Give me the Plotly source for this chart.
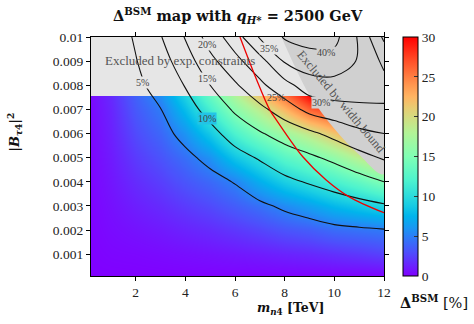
import plotly.graph_objects as go

FONT = "Liberation Serif"
TFONT = "DejaVu Serif"

# ---- data ----
m_nodes = [0.2, 1, 2, 3, 4, 5, 6, 7, 8, 9, 10, 11, 12]          # m_n4 [TeV]
b_nodes = [0.0001, 0.001, 0.002, 0.003, 0.004, 0.005, 0.006,
           0.007, 0.008, 0.009, 0.01]                               # |B_tau4|^2

# Delta^BSM [%] estimated at the nodes, one list per mass (bottom -> top in |B|^2)
d_m02 = [0.00, 0.05, 0.10, 0.15, 0.20, 0.25, 0.30, 0.35, 0.40, 0.45, 0.50]
d_m01 = [0.00, 0.20, 0.40, 0.60, 0.80, 1.00, 1.20, 1.40, 1.70, 2.00, 2.30]
d_m2 = [0.02, 0.27, 0.68, 1.15, 1.67, 2.23, 2.83, 3.45, 4.10, 4.79, 5.50]
d_m3 = [0.03, 0.39, 0.96, 1.63, 2.37, 3.17, 4.02, 4.91, 6.40, 8.00, 9.70]
d_m4 = [0.04, 0.53, 1.31, 2.22, 3.23, 4.32, 5.87, 8.00, 10.25, 12.6, 15.3]
d_m5 = [0.05, 0.67, 1.64, 2.79, 4.05, 5.80, 8.60, 11.7, 15.0, 18.6, 22.3]
d_m6 = [0.06, 0.85, 2.09, 3.56, 5.15, 8.40, 11.9, 15.7, 19.3, 23.6, 27.5]
d_m7 = [0.07, 1.06, 2.60, 4.40, 7.20, 10.4, 14.6, 18.75, 23.9, 28.1, 35.5]
d_m8 = [0.08, 1.30, 3.20, 5.50, 9.00, 12.7, 16.8, 22.5, 28.2, 35.5, 40.5]
d_m9 = [0.09, 1.50, 3.60, 6.50, 10.4, 14.2, 19.0, 26.4, 32.8, 37.7, 42.0]
d_m10 = [0.10, 1.80, 4.20, 7.70, 11.7, 16.0, 21.4, 28.1, 33.2, 38.0, 41.5]
d_m11 = [0.11, 2.10, 4.50, 8.60, 13.2, 18.3, 23.9, 29.0, 32.5, 34.5, 34.3]
d_m12 = [0.12, 2.50, 4.80, 9.50, 15.0, 20.5, 25.0, 29.5, 31.5, 29.0, 24.0]
delta_by_mass = [d_m02, d_m01, d_m2, d_m3, d_m4, d_m5, d_m6, d_m7, d_m8,
                 d_m9, d_m10, d_m11, d_m12]

contour_levels = [5, 10, 15, 20, 25, 30, 35, 40]
label_m = [2.27, 4.87, 4.87, 4.87, 7.67, 9.47, 7.36, 9.67]
label_b = [0.00813, 0.00664, 0.0083, 0.0097, 0.0075, 0.00728, 0.00954, 0.00936]
label_bg = ["#e6e6e6", "#22c4e6", "#e6e6e6", "#e6e6e6", "rgba(0,0,0,0)",
            "#d0d0d0", "#e6e6e6", "#d0d0d0"]

exp_bound = 0.00756                     # exp. constraint on |B|^2
width_m = [7.87, 8.5, 9.0, 10.0, 11.0, 12.0]
width_b = [0.0100, 0.00858, 0.00760, 0.00620, 0.00512, 0.00432]
red_m = [6.2, 6.87, 7.4, 7.67, 8.73, 9.67, 10.6, 12.0]
red_b = [0.0100, 0.00823, 0.00698, 0.00656, 0.00504, 0.00408, 0.00338, 0.00272]

x_ticks = [2, 4, 6, 8, 10, 12]
y_ticks = [0.001, 0.002, 0.003, 0.004, 0.005, 0.006, 0.007, 0.008, 0.009, 0.01]
y_ticktext = ["0.001", "0.002", "0.003", "0.004", "0.005", "0.006",
              "0.007", "0.008", "0.009", "0.01"]
cbar_ticks = [0, 5, 10, 15, 20, 25, 30]

X_RANGE = [0.2, 12]
Y_RANGE = [0.0001, 0.01]

z = [list(row) for row in zip(*delta_by_mass)]

rainbow = [
    [0.0, "rgb(128,0,255)"], [0.1, "rgb(77,79,252)"], [0.2, "rgb(26,150,243)"],
    [0.25, "rgb(0,180,236)"], [0.3, "rgb(26,206,227)"], [0.4, "rgb(77,243,206)"],
    [0.5, "rgb(128,255,180)"], [0.6, "rgb(179,243,150)"], [0.7, "rgb(230,206,116)"],
    [0.75, "rgb(255,180,98)"], [0.8, "rgb(255,150,79)"], [0.9, "rgb(255,79,40)"],
    [1.0, "rgb(255,0,0)"],
]

fig = go.Figure()

fig.add_trace(go.Heatmap(
    x=m_nodes, y=b_nodes, z=z, zmin=0, zmax=30, zsmooth="best",
    colorscale=rainbow, hoverinfo="skip",
    colorbar=dict(
        thickness=15, thicknessmode="pixels", len=1, lenmode="fraction",
        x=1.065, xanchor="left", y=0.5, yanchor="middle", xpad=0, ypad=0,
        outlinewidth=1, outlinecolor="black",
        tickvals=cbar_ticks, ticks="inside", ticklen=4, tickcolor="#333",
        tickfont=dict(family=FONT, size=13.5, color="#222"),
    ),
    xaxis="x", yaxis="y",
))

# excluded by experimental constraints
fig.add_trace(go.Scatter(
    x=[X_RANGE[0], X_RANGE[1], X_RANGE[1], X_RANGE[0]],
    y=[exp_bound, exp_bound, Y_RANGE[1], Y_RANGE[1]],
    fill="toself", fillcolor="#e6e6e6", mode="lines", line=dict(width=0),
    hoverinfo="skip", showlegend=False, xaxis="x", yaxis="y",
))
# excluded by width bound
fig.add_trace(go.Scatter(
    x=width_m + [X_RANGE[1]], y=width_b + [Y_RANGE[1]],
    fill="toself", fillcolor="#d0d0d0", mode="lines", line=dict(width=0, shape="spline"),
    hoverinfo="skip", showlegend=False, xaxis="x", yaxis="y",
))

# contour lines on an overlaid subplot (drawn above the grey areas)
fig.add_trace(go.Contour(
    x=m_nodes, y=b_nodes, z=z,
    contours=dict(start=contour_levels[0], end=contour_levels[-1], size=5,
                  coloring="none", showlabels=False),
    line=dict(color="#111", width=1.1, smoothing=1.0),
    showscale=False, hoverinfo="skip", xaxis="x2", yaxis="y2",
))
fig.add_trace(go.Scatter(
    x=red_m, y=red_b, mode="lines", line=dict(color="#ee0000", width=1.3, shape="spline"),
    hoverinfo="skip", showlegend=False, xaxis="x2", yaxis="y2",
))

C = dict(xanchor="center", yanchor="middle", showarrow=False)
ann = []
for lv, lm, lb, bg in zip(contour_levels, label_m, label_b, label_bg):
    ann.append(dict(x=lm, y=lb, xref="x2", yref="y2", text=f"{lv}%",
                    font=dict(family=FONT, size=10, color="#444"), bgcolor=bg,
                    borderpad=0, **C))
ann.append(dict(x=3.8, y=0.00903, xref="x2", yref="y2", text="Excluded by exp. constraints",
                font=dict(family=FONT, size=13, color="#555"), **C))
ann.append(dict(x=10.27, y=0.00729, xref="x2", yref="y2", text="Excluded by width bound",
                textangle=50, font=dict(family=FONT, size=12.5, color="#555"), **C))
# axis titles
ann.append(dict(x=0.68, y=-0.135, xref="paper", yref="paper",
                text="<b><i>m</i><sub><i>n</i>4</sub> [TeV]</b>",
                font=dict(family=TFONT, size=12.5, color="#111"), **C))
ann.append(dict(x=-0.262, y=0.6, xref="paper", yref="paper",
                text="<b>|<i>B</i><sub><i>τ</i>4</sub>|<sup>2</sup></b>",
                textangle=-90, font=dict(family=TFONT, size=13, color="#111"), **C))
ann.append(dict(x=1.171, y=-0.106, xref="paper", yref="paper",
                text="<b>Δ<sup>BSM</sup></b> [%]",
                font=dict(family=TFONT, size=14.5, color="#111"), **C))
ann.append(dict(x=0.5, y=1.089, xref="paper", yref="paper",
                text="<b>Δ<sup>BSM</sup> map with <i>q</i><sub><i>H</i>*</sub> = 2500 GeV</b>",
                font=dict(family=TFONT, size=14.5, color="#111"), **C))

axis_common = dict(showgrid=False, zeroline=False, showline=True, linecolor="black",
                   linewidth=1.2, mirror="ticks", ticks="outside", ticklen=4,
                   tickcolor="black", tickfont=dict(family=FONT, size=13.5, color="#222"))

fig.update_layout(
    width=474, height=324, margin=dict(l=91, r=90, t=37, b=48),
    paper_bgcolor="white", plot_bgcolor="white",
    xaxis=dict(range=X_RANGE, tickvals=x_ticks, **axis_common),
    yaxis=dict(range=Y_RANGE, tickvals=y_ticks, ticktext=y_ticktext, **axis_common),
    xaxis2=dict(range=X_RANGE, overlaying="x", visible=False),
    yaxis2=dict(range=Y_RANGE, overlaying="y", visible=False),
    annotations=ann, showlegend=False,
)

fig.write_html("out.html")
